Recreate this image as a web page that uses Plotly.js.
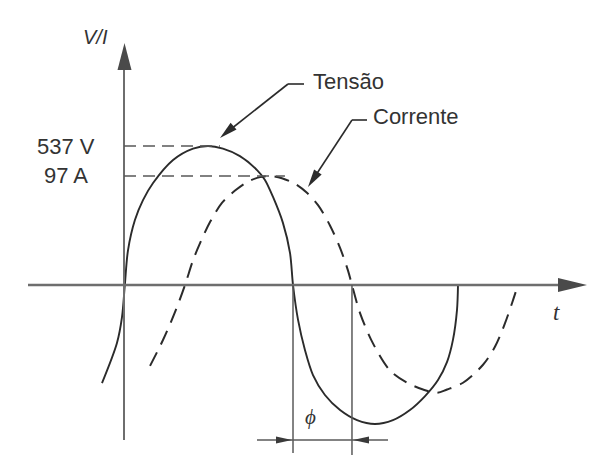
<!DOCTYPE html>
<html>
<head>
<meta charset="utf-8">
<script src="https://cdn.plot.ly/plotly-3.0.1.min.js"></script>
<style>html,body{margin:0;padding:0;background:#fff;}#chart{width:598px;height:465px;}</style>
</head>
<body>
<div id="chart"></div>
<script>
// ---- Data (time in ms, voltage in V, current in A) ----
const tVoltage = [-1.31,-0.42,-0.12,0.05,0.24,0.65,1.13,1.73,2.92,4.11,5.0,5.89,6.90,7.92,8.39,8.87,9.46,9.88,10.06,10.36,10.77,11.25,11.96,12.86,13.87,14.94,16.01,17.02,17.92,18.69,19.23,19.58,19.82,19.88];
const voltage  = [-379,-224,-124,0,135,251,328,394,483,527,537,527,498,444,406,340,240,124,0,-135,-251,-348,-425,-483,-522,-537,-522,-483,-429,-367,-297,-212,-97,0];
const tCurrent = [1.55,2.32,3.04,3.63,4.11,4.52,5.12,5.83,6.61,7.38,8.10,8.69,9.40,10.18,10.89,11.55,12.26,12.86,13.33,13.57,14.05,14.82,15.83,16.85,17.80,18.63,19.23,20.18,21.37,22.08,22.68,23.10,23.45];
const current  = [-72,-49,-24,0,22,37,56,73,84,92,96,97,95,90,82,71,53,33,13,0,-25,-52,-76,-87,-93,-96,-93,-87,-71,-55,-34,-16,0];
const peakLabels = ['537 V', '97 A'];
const V_PEAK = 537, I_PEAK = 97;
const seriesNames = ['Tensão', 'Corrente'];
const axisLabels = ['V/I', 't'];
const phaseLabel = 'ϕ';

// zero crossings (falling) taken from the data
function fallingZero(t, v){ for(let i=1;i<v.length;i++){ if(v[i]===0 && v[i-1]>0) return t[i]; } return null; }
const tV0 = fallingZero(tVoltage, voltage);
const tI0 = fallingZero(tCurrent, current);

// ---- layout helpers (pixel -> paper) ----
const W=598, H=465;
const px = x => x/W, py = y => 1 - y/H;
const INK='#2b2b2b', AX='#6e6e6e', GR='#5a5a5a';
function seg(x0,y0,x1,y1,color,width,dash){
  return {type:'line', xref:'paper', yref:'paper', x0:px(x0), y0:py(y0), x1:px(x1), y1:py(y1),
          line:{color:color, width:width, dash:dash||'solid'}};
}
function tri(tx,ty,ux,uy,len,hw,color){
  const n=Math.hypot(ux,uy); ux/=n; uy/=n;
  const bx=tx-ux*len, by=ty-uy*len, nx=-uy, ny=ux;
  return {type:'path', xref:'paper', yref:'paper',
    path:`M${px(tx)},${py(ty)} L${px(bx+nx*hw)},${py(by+ny*hw)} L${px(bx-nx*hw)},${py(by-ny*hw)} Z`,
    fillcolor:color, line:{width:0}};
}

const traces = [
  {x:tVoltage, y:voltage, type:'scatter', mode:'lines', name:seriesNames[0], yaxis:'y',
   line:{color:INK, width:1.9, shape:'spline', smoothing:0.9}},
  {x:tCurrent, y:current, type:'scatter', mode:'lines', name:seriesNames[1], yaxis:'y2',
   line:{color:INK, width:2, shape:'spline', smoothing:0.9, dash:'15px,9px'}}
];

const shapes = [
  // horizontal t axis (at V = 0)
  {type:'line', xref:'paper', yref:'y', x0:px(28), x1:px(562), y0:0, y1:0, line:{color:AX, width:2.5}},
  tri(587,285,1,0,29,7,'#4a4a4a'),
  // vertical V/I axis (at t = 0)
  {type:'line', xref:'x', yref:'paper', x0:0, x1:0, y0:py(440), y1:py(66), line:{color:AX, width:2}},
  tri(124.5,43,0,-1,27,7,'#4a4a4a'),
  // peak reference lines
  {type:'line', xref:'x', yref:'y', x0:0, x1:5.71, y0:V_PEAK, y1:V_PEAK, line:{color:'#585858', width:1.7, dash:'12px,7px'}},
  {type:'line', xref:'x', yref:'y2', x0:0, x1:9.58, y0:I_PEAK, y1:I_PEAK, line:{color:'#585858', width:1.7, dash:'12px,7px'}},
  // phase lines at zero crossings
  {type:'line', xref:'x', yref:'paper', x0:tV0, x1:tV0, y0:py(285), y1:py(453), line:{color:GR, width:1.5}},
  {type:'line', xref:'x', yref:'paper', x0:tI0, x1:tI0, y0:py(285), y1:py(455), line:{color:GR, width:1.5}},
  // phi dimension line
  seg(257,440,388,440,GR,1.5),
  tri(292,440,1,0,16,3.5,'#3a3a3a'),
  tri(353,440,-1,0,16,3.5,'#3a3a3a'),
  // leader for Tensão
  seg(304,84,288,84,INK,1.6),
  seg(288,84,226,133,INK,1.6),
  tri(220,138,-62,54,18,4.5,INK),
  // leader for Corrente
  seg(367,120,352,120,INK,1.6),
  seg(352,120,312,181,INK,1.6),
  tri(308,187,-44,67,18,4.5,INK)
];

const FONT = '"Liberation Sans", Arial, sans-serif';
const ann = (x,y,text,opts) => Object.assign({xref:'paper', yref:'paper', x:px(x), y:py(y), text:text,
  showarrow:false, xanchor:'center', yanchor:'middle', font:{family:FONT, size:22, color:'#333'}}, opts||{});

const annotations = [
  ann(65.5,146,peakLabels[0]),
  ann(65.5,175,peakLabels[1]),
  ann(311,81,seriesNames[0],{xanchor:'left'}),
  ann(371,117,seriesNames[1],{xanchor:'left'}),
  ann(95,37,'<i>'+axisLabels[0]+'</i>',{font:{family:FONT, size:20, color:'#333'}}),
  ann(556,312,'<i>'+axisLabels[1]+'</i>',{font:{family:'"Liberation Serif", "DejaVu Serif", serif', size:23, color:'#333'}}),
  ann(310,417,'<i>'+phaseLabel+'</i>',{font:{family:'"Liberation Serif", "DejaVu Serif", serif', size:21, color:'#333'}})
];

// axis ranges chosen so t=0 sits at x=124px, zero at y=285px
const layout = {
  width:W, height:H, margin:{l:0,r:0,t:0,b:0},
  paper_bgcolor:'#ffffff', plot_bgcolor:'#ffffff', showlegend:false,
  xaxis:{range:[-7.381, 28.214], visible:false, fixedrange:true},
  yaxis:{range:[-695.4, 1101.0], visible:false, fixedrange:true},
  yaxis2:{range:[-160.2, 253.6], visible:false, overlaying:'y', fixedrange:true},
  shapes:shapes, annotations:annotations
};
Plotly.newPlot('chart', traces, layout, {staticPlot:true, displayModeBar:false});
</script>
</body>
</html>
